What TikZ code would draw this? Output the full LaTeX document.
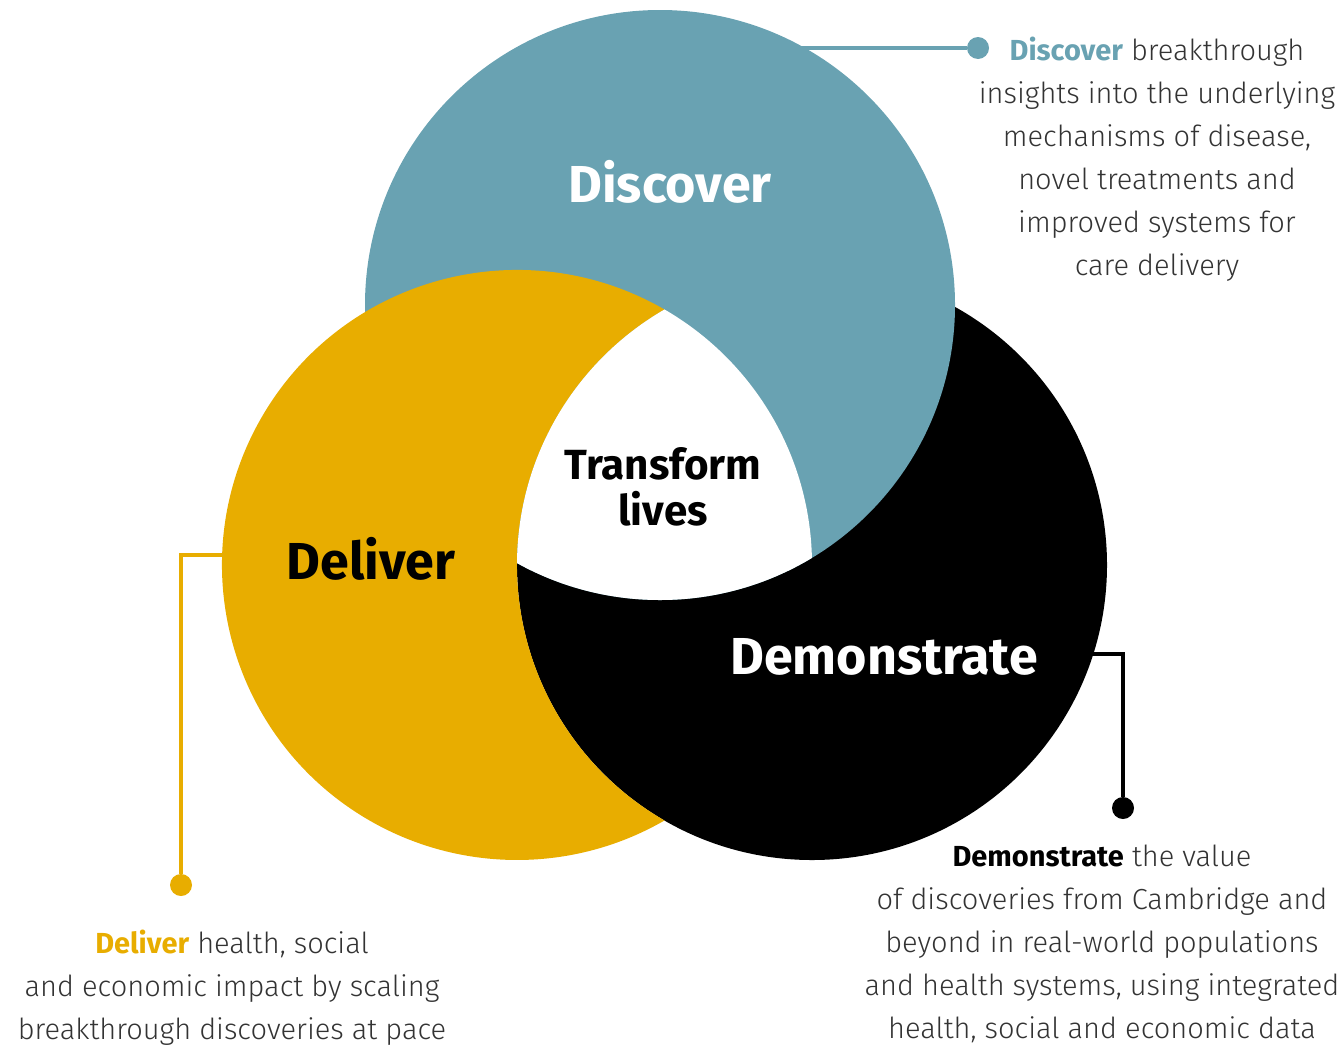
\documentclass[tikz,border=0pt]{standalone}
\usepackage{fontspec}
\setmainfont{Fira Sans}[UprightFont=* Light,BoldFont=* Bold]
\definecolor{discteal}{HTML}{69A2B2}
\definecolor{delgold}{HTML}{E8AD00}
\definecolor{bodygray}{HTML}{333333}
\begin{document}
\begin{tikzpicture}[x=0.02cm,y=-0.02cm,
  dot/.style={circle,fill=#1,inner sep=0pt,minimum size=0.44cm},
  link/.style={draw=#1,line width=2.6pt},
  biglabel/.style={font=\bfseries\fontsize{29.6}{36}\selectfont,inner sep=0pt},
  blurb/.style={align=center,inner sep=0pt,text=bodygray,font=\fontsize{16.5}{24.5}\selectfont}]
 \useasboundingbox (0,0) rectangle (1341,1045);
 % the three circles, each one over the next
 \fill[black](812,565) circle (295);
 \fill[discteal](660,305) circle (295);
 \fill[delgold](664.5,309.5) arc[start angle=-60,end angle=-300,radius=295]
   arc[start angle=120,end angle=240,radius=295] -- cycle;
 % middle part where all three meet
 \begin{scope}
  \clip (660,305) circle (295);
  \clip (517,565) circle (295);
  \fill[white](812,565) circle (295);
 \end{scope}
 \node[biglabel,text=white] (discover) at (670,182) {Discover};
 \node[biglabel] (deliver) at (371,559) {Deliver};
 \node[biglabel,text=white] (demonstrate) at (884,657) {Demonstrate};
 \node[biglabel,align=center,font=\bfseries\fontsize{24}{26}\selectfont] (transform) at (663,487) {Transform\\lives};
 % connectors
 \coordinate (discEdge) at (790,48);
 \node[dot=discteal] (discDot) at (978,48) {};
 \draw[link=discteal] (discEdge) -- (discDot);
 \coordinate (delEdge) at (235,555);
 \node[dot=delgold] (delDot) at (181,885) {};
 \draw[link=delgold] (delEdge) -| (delDot);
 \coordinate (demEdge) at (1085,654);
 \node[dot=black] (demDot) at (1123,808) {};
 \draw[link=black] (demEdge) -| (demDot);
 % descriptions
 \node[blurb] (discText) at (1157,159) {\textbf{\textcolor{discteal}{Discover}} breakthrough\\insights into the underlying\\mechanisms of disease,\\novel treatments and\\improved systems for\\care delivery};
 \node[blurb] (delText) at (232,988) {\textbf{\textcolor{delgold}{Deliver}} health, social\\and economic impact by scaling\\breakthrough discoveries at pace};
 \node[blurb] (demText) at (1102,944) {\textbf{\textcolor{black}{Demonstrate}} the value\\of discoveries from Cambridge and\\beyond in real-world populations\\and health systems, using integrated\\health, social and economic data};
\end{tikzpicture}
\end{document}
